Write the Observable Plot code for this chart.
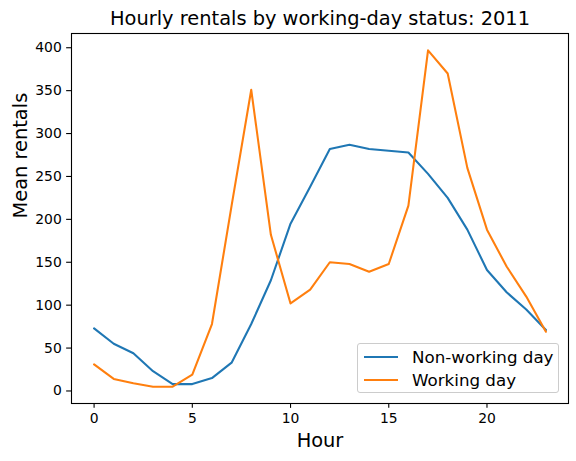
<!DOCTYPE html>
<html><head><meta charset="utf-8">
<script src="https://cdn.jsdelivr.net/npm/d3@7"></script>
<script src="https://cdn.jsdelivr.net/npm/@observablehq/plot@0.6"></script>
<style>
body{margin:0;background:#fff;}
#wrap{position:relative;width:576px;height:461px;font-family:"DejaVu Sans",sans-serif;}
#legend{position:absolute;left:357px;top:343px;width:200px;height:48px;border:1px solid #cccccc;border-radius:3px;background:rgba(255,255,255,0.8);font-size:16.7px;color:#000;}
.row{position:absolute;left:0;width:200px;height:20px;}
.sw{position:absolute;left:6px;top:9px;width:34px;height:2.1px;}
.lb{position:absolute;left:54px;top:0;line-height:20px;white-space:nowrap;}
</style>
</head><body>
<div id="wrap"></div>
<script>
const hours = [0,1,2,3,4,5,6,7,8,9,10,11,12,13,14,15,16,17,18,19,20,21,22,23];
const nonWorking = [73, 55, 44, 23, 8, 8, 15, 33, 78, 129, 195, 238, 282, 287, 282, 280, 278, 253, 225, 188, 141, 115, 95, 71];
const working = [31, 14, 9, 5, 5, 19, 78, 216, 351, 182, 102, 118, 150, 148, 139, 148, 216, 397, 370, 260, 188, 145, 110, 69];
const seriesNames = ["Non-working day", "Working day"];
const seriesColors = ["#1f77b4", "#ff7f0e"];
const xTicks = [0, 5, 10, 15, 20];
const yTicks = [0, 50, 100, 150, 200, 250, 300, 350, 400];
const title = "Hourly rentals by working-day status: 2011";
const xLabel = "Hour";
const yLabel = "Mean rentals";

const nw = hours.map((h, i) => ({hour: h, value: nonWorking[i]}));
const wk = hours.map((h, i) => ({hour: h, value: working[i]}));

const allV = nonWorking.concat(working);
const vmin = d3.min(allV), vmax = d3.max(allV);
const ypad = (vmax - vmin) * 0.05;
const xpad = (d3.max(hours) - d3.min(hours)) * 0.05;

const tick = 4.86;
const chart = Plot.plot({
  width: 576,
  height: 461,
  marginLeft: 71,
  marginRight: 8,
  marginTop: 33,
  marginBottom: 58,
  style: {fontFamily: '"DejaVu Sans", sans-serif', background: "white", color: "black"},
  x: {domain: [d3.min(hours) - xpad, d3.max(hours) + xpad]},
  y: {domain: [vmin - ypad, vmax + ypad]},
  marks: [
    Plot.line(nw, {x: "hour", y: "value", stroke: seriesColors[0], strokeWidth: 2.08}),
    Plot.line(wk, {x: "hour", y: "value", stroke: seriesColors[1], strokeWidth: 2.08}),
    Plot.axisX(xTicks, {tickSize: tick, tickPadding: 4.86, fontSize: 13.9, strokeWidth: 1.1, label: null, anchor: "bottom"}),
    Plot.axisY(yTicks, {tickSize: tick, tickPadding: 4.86, fontSize: 13.9, strokeWidth: 1.1, label: null, anchor: "left"}),
    Plot.frame({stroke: "black", strokeWidth: 1.1}),
    Plot.text([title], {frameAnchor: "top", dy: -14.8, fontSize: 19.4, lineAnchor: "middle", fill: "black"}),
    Plot.text([xLabel], {frameAnchor: "bottom", dy: 37.6, fontSize: 19.4, lineAnchor: "middle", fill: "black"}),
    Plot.text([yLabel], {frameAnchor: "left", dx: -51, rotate: -90, fontSize: 19.4, lineAnchor: "middle", fill: "black"})
  ]
});
const wrap = document.getElementById("wrap");
wrap.appendChild(chart);

const legend = document.createElement("div");
legend.id = "legend";
const rowTops = [3, 26];
seriesNames.forEach((name, i) => {
  const row = document.createElement("div");
  row.className = "row";
  row.style.top = rowTops[i] + "px";
  const sw = document.createElement("div");
  sw.className = "sw";
  sw.style.background = seriesColors[i];
  const lb = document.createElement("span");
  lb.className = "lb";
  lb.textContent = name;
  row.appendChild(sw); row.appendChild(lb);
  legend.appendChild(row);
});
wrap.appendChild(legend);
</script>
</body></html>
